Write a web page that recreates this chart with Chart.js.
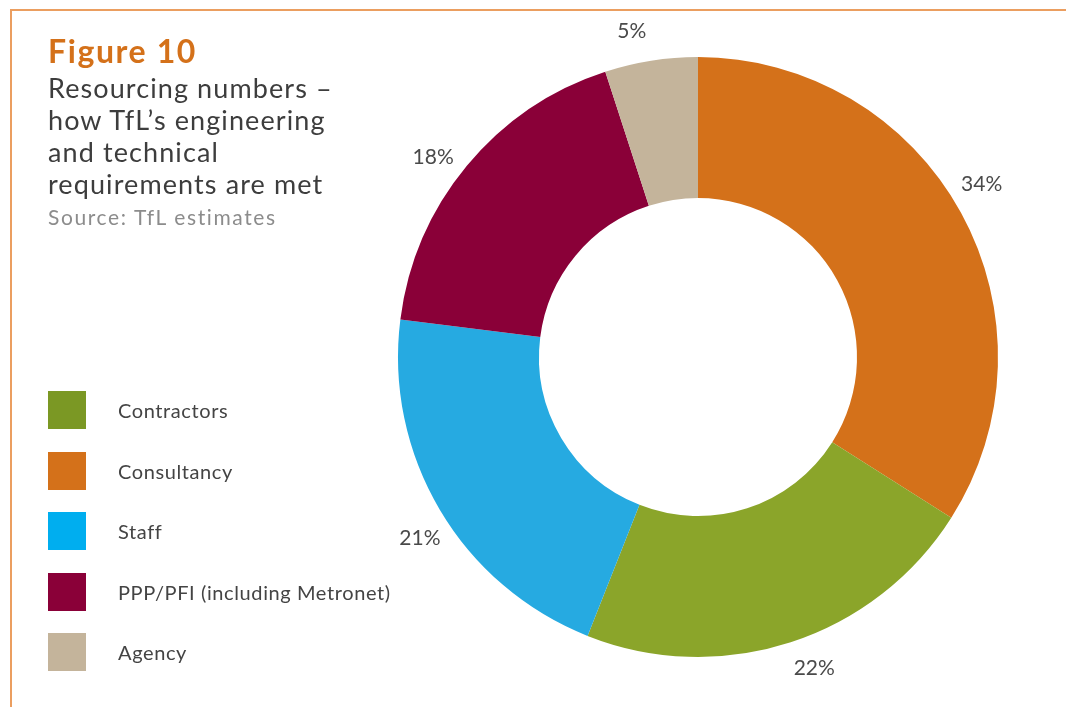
<!DOCTYPE html>
<html>
<head>
<meta charset="utf-8">
<script src="https://cdn.jsdelivr.net/npm/chart.js@4.4.1/dist/chart.umd.min.js"></script>
<style>
  html, body { margin: 0; padding: 0; background: #fff; }
  body { width: 1066px; height: 707px; position: relative; overflow: hidden; font-family: Lato, "Open Sans", sans-serif; }
  #frame { position: absolute; left: 10px; top: 9px; width: 1100px; height: 760px; border-top: 2px solid #EB9E60; border-left: 2px solid #EB9E60; box-sizing: border-box; }
  #wrap { position: absolute; left: 0; top: 0; width: 1066px; height: 707px; }
  #title { position: absolute; left: 48px; top: 33px; color: #D4711A; font-weight: 700; font-size: 32px; line-height: 36px; letter-spacing: 1.6px; margin: 0; }
  #subtitle { position: absolute; left: 48px; top: 72px; color: #3d3d3d; font-size: 27px; line-height: 32px; letter-spacing: 1.1px; }
  #source { position: absolute; left: 48px; top: 204px; color: #8c8c8c; font-size: 21px; line-height: 26px; letter-spacing: 1.6px; }
  #legend { position: absolute; left: 48px; top: 391px; }
  .li { position: relative; height: 38px; margin-bottom: 22.5px; }
  .sw { position: absolute; left: 0; top: 0; width: 38px; height: 38px; }
  .lt { position: absolute; left: 70px; top: 7px; font-size: 20px; line-height: 24px; color: #444; white-space: nowrap; letter-spacing: 0.6px; }
</style>
</head>
<body>
<div id="frame"></div>
<div id="wrap"><canvas id="c" width="1066" height="707"></canvas></div>
<div id="title">Figure 10</div>
<div id="subtitle">Resourcing numbers –<br>how TfL’s engineering<br>and technical<br>requirements are met</div>
<div id="source">Source: TfL estimates</div>
<div id="legend"></div>
<script>
// Data (clockwise from 12 o'clock)
const categories = ["Consultancy", "Contractors", "Staff", "PPP/PFI (including Metronet)", "Agency"];
const values = [34, 22, 21, 18, 5];
const sliceColors = ["#D4711A", "#8BA52A", "#26AAE1", "#8A0038", "#C4B49B"];
// Legend (as printed)
const legendLabels = ["Contractors", "Consultancy", "Staff", "PPP/PFI (including Metronet)", "Agency"];
const legendColors = ["#7B9824", "#D4711A", "#00AEEF", "#8A0038", "#C4B49B"];

// HTML legend
const lg = document.getElementById('legend');
legendLabels.forEach((t, i) => {
  const d = document.createElement('div'); d.className = 'li';
  const s = document.createElement('div'); s.className = 'sw'; s.style.background = legendColors[i];
  const l = document.createElement('div'); l.className = 'lt'; l.textContent = t;
  d.appendChild(s); d.appendChild(l); lg.appendChild(d);
});

const pctLabels = {
  id: 'pctLabels',
  afterDatasetsDraw(chart) {
    const ctx = chart.ctx;
    const meta = chart.getDatasetMeta(0);
    const total = values.reduce((a, b) => a + b, 0);
    const shift = -2.5 * Math.PI / 180;
    ctx.save();
    ctx.font = '400 21px Lato, "Open Sans", sans-serif';
    ctx.fillStyle = '#4a4a4a';
    ctx.textAlign = 'center';
    ctx.textBaseline = 'middle';
    meta.data.forEach((arc, i) => {
      const p = arc.getProps(['x', 'y', 'startAngle', 'endAngle', 'outerRadius'], true);
      const mid = (p.startAngle + p.endAngle) / 2 + shift;
      const r = p.outerRadius + 32;
      const txt = Math.round(values[i] / total * 100) + '%';
      ctx.fillText(txt, p.x + r * Math.cos(mid), p.y + r * Math.sin(mid));
    });
    ctx.restore();
  }
};

new Chart(document.getElementById('c'), {
  type: 'doughnut',
  data: {
    labels: categories,
    datasets: [{
      data: values,
      backgroundColor: sliceColors,
      borderWidth: 0,
      hoverOffset: 0
    }]
  },
  options: {
    responsive: false,
    animation: false,
    cutout: '53%',
    rotation: 0,
    layout: { padding: { left: 398, right: 68, top: 57, bottom: 50 } },
    plugins: {
      legend: { display: false },
      tooltip: { enabled: false }
    }
  },
  plugins: [pctLabels]
});
</script>
</body>
</html>
